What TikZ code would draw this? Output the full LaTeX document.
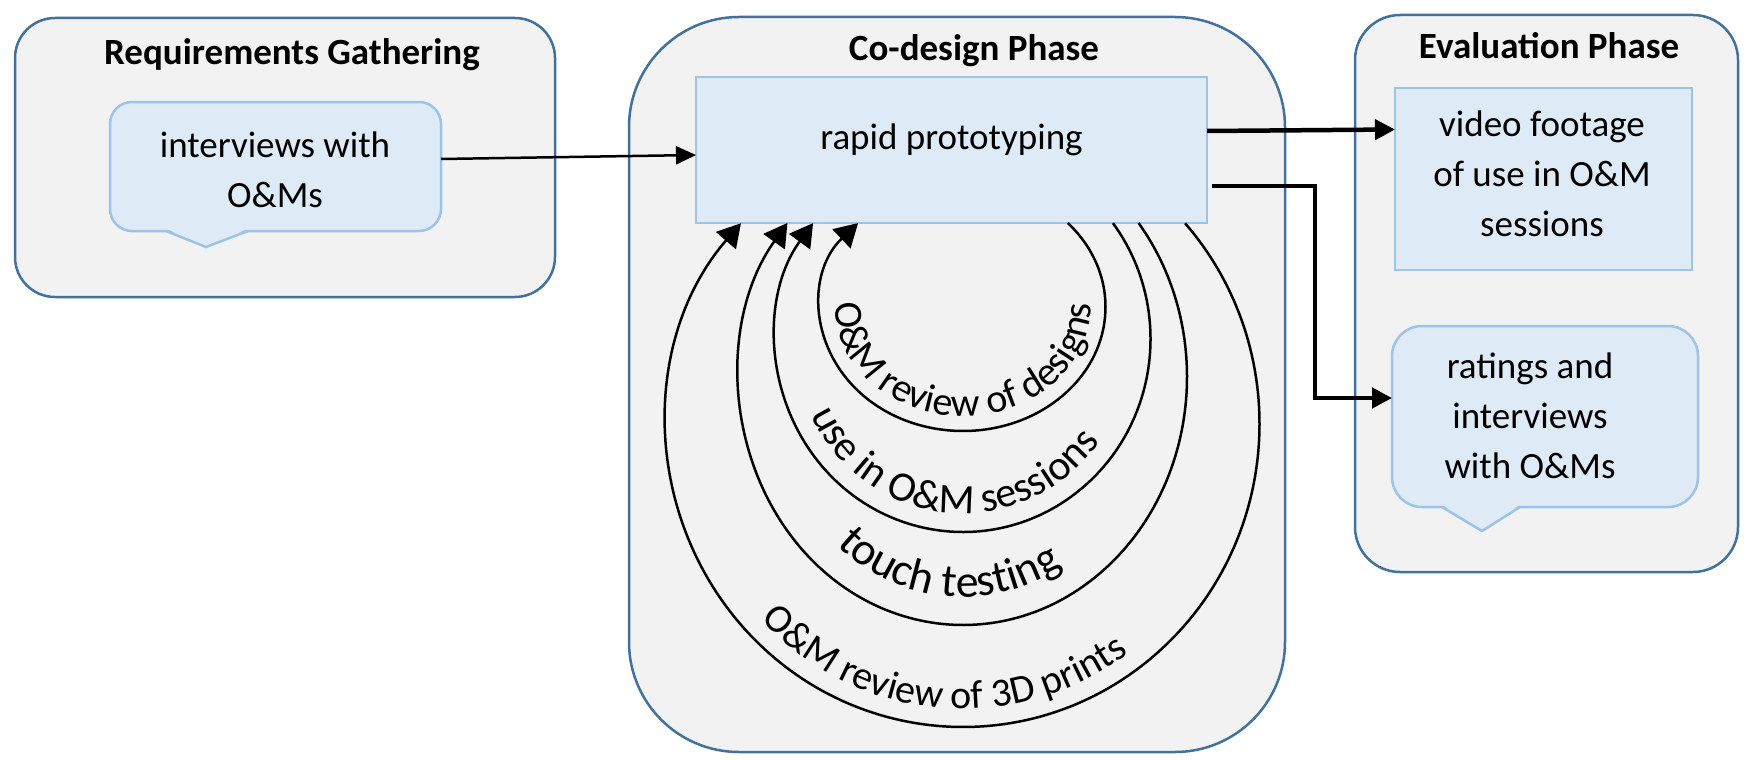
\documentclass[tikz,border=0pt]{standalone}
\usepackage{fontspec}
\setmainfont{Carlito}
\usetikzlibrary{arrows.meta,calc,decorations.text}
\definecolor{outerfill}{HTML}{F2F2F2}
\definecolor{outerdraw}{HTML}{41719C}
\definecolor{innerfill}{HTML}{DEEBF7}
\definecolor{innerdraw}{HTML}{9DC3E6}
\newcommand\bodyfont{\fontsize{37}{50}\selectfont}
\newcommand\loopfont{\fontsize{40}{48}\selectfont}
\newcommand\midloopfont{\fontsize{42}{50}\selectfont}
\newcommand\bigloopfont{\fontsize{46}{52}\selectfont}
\begin{document}
\begin{tikzpicture}[x=1pt,y=-1pt,
  phase/.style={draw=outerdraw, fill=outerfill, line width=2.5pt, inner sep=0pt, outer sep=0pt},
  box/.style={draw=innerdraw, fill=innerfill, line width=2.5pt, inner sep=0pt, outer sep=0pt},
  title/.style={font=\bodyfont\bfseries, inner sep=0pt, anchor=base},
  txt/.style={font=\bodyfont, inner sep=0pt, anchor=base},
  thinarr/.style={line width=2.5pt, -{Triangle[length=20pt,width=18pt]}},
  thickarr/.style={line width=4.5pt, -{Triangle[length=20pt,width=20pt]}},
  looparr/.style={line width=2.5pt, -{Triangle[length=23pt,width=26pt]}}]
\fill[white] (0,0) rectangle (1748,760);
\useasboundingbox (0,0) rectangle (1748,760);

% phase containers
\node[phase, rounded corners=40pt, minimum width=540pt, minimum height=279pt] (req) at (285,157.5) {};
\node[phase, rounded corners=110pt, minimum width=656pt, minimum height=735pt] (co) at (957,384.5) {};
\node[phase, rounded corners=45pt, minimum width=383pt, minimum height=557pt] (ev) at (1546.5,293.5) {};

\node[title] (reqt) at (292,64) {Requirements Gathering};
\node[title] (cot) at (974,61) {Co-design Phase};
\node[title] (evt) at (1549,59) {Evaluation Phase};

% inner boxes
\node[box, rounded corners=22pt, minimum width=331pt, minimum height=129pt] (intv) at (275.5,166.5) {};
\fill[innerfill] (166,228.5) -- (206,247) -- (248,228.5) -- cycle;
\draw[innerdraw, line width=2.5pt] (166,231) -- (206,247) -- (248,231);
\node[txt] (intvt) at (275,157) {\begin{tabular}[t]{@{}c@{}}interviews with\\O\&Ms\end{tabular}};

\node[box, minimum width=511pt, minimum height=146pt] (rapid) at (951.5,150) {};
\node[txt] (rapidt) at (951.5,149) {rapid prototyping};

\node[box, minimum width=297pt, minimum height=182pt] (video) at (1543.5,179) {};
\node[txt] (videot) at (1542,136) {\begin{tabular}[t]{@{}c@{}}video footage\\of use in O\&M\\sessions\end{tabular}};

\node[box, rounded corners=30pt, minimum width=306pt, minimum height=181pt] (rate) at (1545,416.5) {};
\fill[innerfill] (1442,504.5) -- (1482,531) -- (1520,504.5) -- cycle;
\draw[innerdraw, line width=2.5pt] (1442,507) -- (1482,531) -- (1520,507);
\node[txt] (ratet) at (1530,378) {\begin{tabular}[t]{@{}c@{}}ratings and\\interviews\\with O\&Ms\end{tabular}};

% connectors
\draw[thinarr] ([yshift=7.5pt]intv.east) -- ([yshift=-5pt]rapid.west);
\draw[thickarr] ([yshift=19pt]rapid.east) -- ([yshift=49.5pt]video.west);
\coordinate (bend) at (1315,300);
\draw[thickarr] ([xshift=5pt,yshift=-36pt]rapid.east) -| (bend) |- ([yshift=18.5pt]rate.west);

% feedback loops
\coordinate (c1) at (963,307);
\coordinate (c2) at (963,339);
\coordinate (c3) at (963,377);
\coordinate (c4) at (963,424);
\coordinate (l1) at ($(c1)+(42.6:142.5pt and 124pt)$);
\coordinate (l2) at ($(c2)+(36.9:187.5pt and 193pt)$);
\coordinate (l3) at ($(c3)+(38.4:224pt and 248pt)$);
\coordinate (l4) at ($(c4)+(41.5:296.5pt and 303pt)$);
\draw[looparr] (l1) arc[start angle=42.6, end angle=-222.6, x radius=142.5pt, y radius=124pt];
\draw[looparr] (l2) arc[start angle=36.9, end angle=-216.9, x radius=187.5pt, y radius=193pt];
\draw[looparr] (l3) arc[start angle=38.4, end angle=-218.4, x radius=224pt, y radius=248pt];
\draw[looparr] (l4) arc[start angle=41.5, end angle=-221.5, x radius=296.5pt, y radius=303pt];

\coordinate (t1) at ($(c1)+(150:127.5pt and 109pt)$);
\coordinate (t2) at ($(c2)+(155:169pt and 174.5pt)$);
\coordinate (t3) at ($(c3)+(175.5:196pt and 220pt)$);
\coordinate (t4) at ($(c4)+(175:278.5pt and 285pt)$);
\path[decorate, decoration={text along path, text align=center,
  text={|\loopfont|O{\&}M review of designs}}]
  (t1) arc[start angle=150, end angle=390, x radius=127.5pt, y radius=109pt];
\path[decorate, decoration={text along path, text align=center,
  text={|\midloopfont|use in O{\&}M sessions}}]
  (t2) arc[start angle=155, end angle=375, x radius=169pt, y radius=174.5pt];
\path[decorate, decoration={text along path, text align=center,
  text={|\bigloopfont|touch testing}}]
  (t3) arc[start angle=175.5, end angle=355.5, x radius=196pt, y radius=220pt];
\path[decorate, decoration={text along path, text align=center,
  text={|\loopfont|O{\&}M review of 3D prints}}]
  (t4) arc[start angle=175, end angle=355, x radius=278.5pt, y radius=285pt];
\end{tikzpicture}
\end{document}
